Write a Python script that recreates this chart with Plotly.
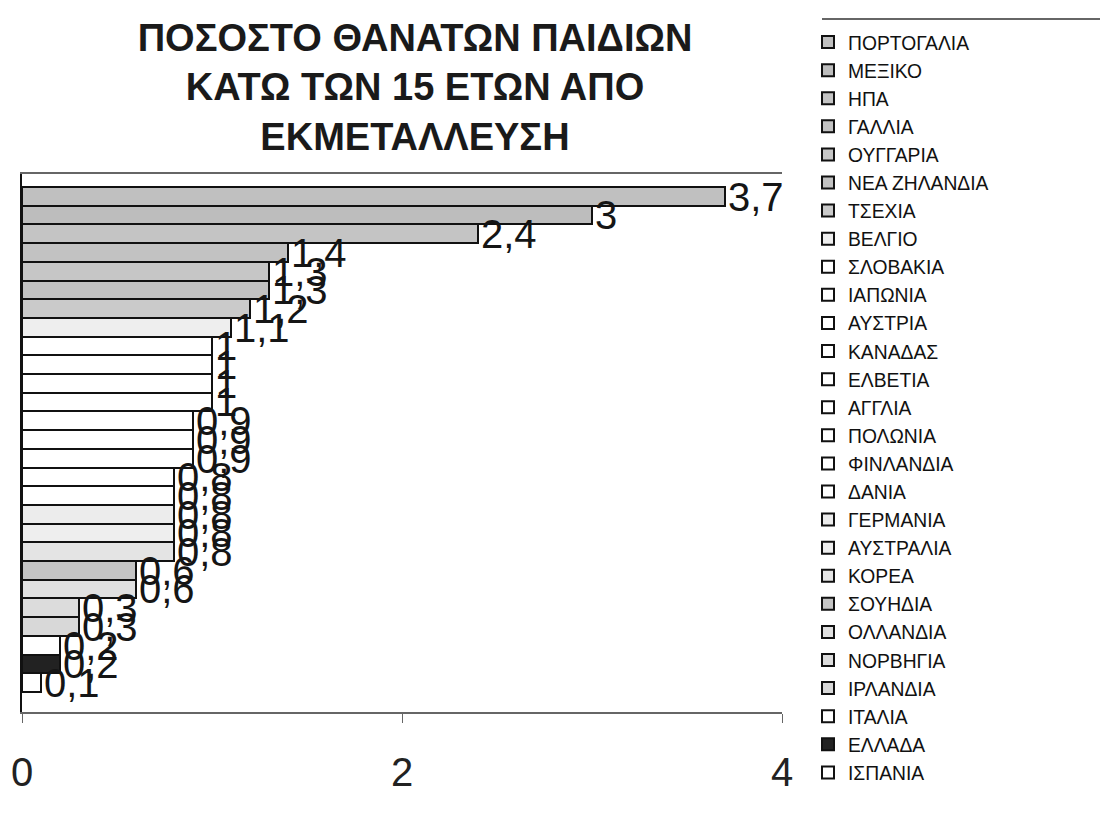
import plotly.graph_objects as go

# Data (top to bottom as drawn, same order as legend)
countries = [
    "ΠΟΡΤΟΓΑΛΙΑ", "ΜΕΞΙΚΟ", "ΗΠΑ", "ΓΑΛΛΙΑ", "ΟΥΓΓΑΡΙΑ", "ΝΕΑ ΖΗΛΑΝΔΙΑ",
    "ΤΣΕΧΙΑ", "ΒΕΛΓΙΟ", "ΣΛΟΒΑΚΙΑ", "ΙΑΠΩΝΙΑ", "ΑΥΣΤΡΙΑ", "ΚΑΝΑΔΑΣ",
    "ΕΛΒΕΤΙΑ", "ΑΓΓΛΙΑ", "ΠΟΛΩΝΙΑ", "ΦΙΝΛΑΝΔΙΑ", "ΔΑΝΙΑ", "ΓΕΡΜΑΝΙΑ",
    "ΑΥΣΤΡΑΛΙΑ", "ΚΟΡΕΑ", "ΣΟΥΗΔΙΑ", "ΟΛΛΑΝΔΙΑ", "ΝΟΡΒΗΓΙΑ", "ΙΡΛΑΝΔΙΑ",
    "ΙΤΑΛΙΑ", "ΕΛΛΑΔΑ", "ΙΣΠΑΝΙΑ",
]
values = [
    3.7, 3.0, 2.4, 1.4, 1.3, 1.3,
    1.2, 1.1, 1.0, 1.0, 1.0, 1.0,
    0.9, 0.9, 0.9, 0.8, 0.8, 0.8,
    0.8, 0.8, 0.6, 0.6, 0.3, 0.3,
    0.2, 0.2, 0.1,
]
x_ticks = [0, 2, 4]
title_text = "ΠΟΣΟΣΤΟ ΘΑΝΑΤΩΝ ΠΑΙΔΙΩΝ<br>ΚΑΤΩ ΤΩΝ 15 ΕΤΩΝ ΑΠΟ<br>ΕΚΜΕΤΑΛΛΕΥΣΗ"

# Styles (fill of each bar as it appears)
bar_colors = [
    "#c0c0c0", "#bdbdbd", "#c4c4c4", "#c2c2c2", "#c6c6c6", "#c2c2c2",
    "#cacaca", "#eeeeee", "#ffffff", "#ffffff", "#ffffff", "#ffffff",
    "#ffffff", "#ffffff", "#ffffff", "#ffffff", "#ffffff", "#ececec",
    "#eeeeee", "#e4e4e4", "#c4c4c4", "#e0e0e0", "#dcdcdc", "#d8d8d8",
    "#ffffff", "#222222", "#ffffff",
]

FONT = "Liberation Sans, Arial, sans-serif"


def fmt(v):
    s = ("%.1f" % v).rstrip("0").rstrip(".")
    return s.replace(".", ",")


fig = go.Figure()
for name, val, col in zip(countries, values, bar_colors):
    fig.add_trace(go.Bar(
        y=[name], x=[val], name=name, orientation="h",
        marker=dict(color=col, line=dict(color="#111111", width=2)),
        text=[fmt(val)], textposition="outside", textangle=0,
        constraintext="none", cliponaxis=False,
        textfont=dict(family=FONT, size=40, color="#151515"),
    ))

n = len(countries)
PL, PR, PT, PB = 22, 782, 174, 712  # plot area in page pixels
pw, ph = PR - PL, PB - PT


def px_x(x):
    return (x - PL) / pw


def px_y(y):
    return (PB - y) / ph


fig.update_layout(
    width=1104, height=825,
    paper_bgcolor="white", plot_bgcolor="white",
    barmode="overlay", bargap=0,
    margin=dict(l=PL, r=1104 - PR, t=PT, b=825 - PB),
    font=dict(family=FONT, color="#151515"),
    title=dict(
        text=title_text, x=415 / 1104, xanchor="center", xref="container",
        y=1 - 51 / 825, yanchor="top", yref="container",
        font=dict(family=FONT, size=38, color="#1a1a1a", weight="bold"),
    ),
    showlegend=True,
    legend=dict(
        x=px_x(808), xanchor="left", xref="paper",
        y=px_y(23), yanchor="top", yref="paper",
        traceorder="normal", itemwidth=30, maxheight=820,
        font=dict(family=FONT, size=19.3, color="#111111"),
        bgcolor="rgba(0,0,0,0)", borderwidth=0,
    ),
    shapes=[dict(type="line", xref="paper", yref="paper",
                 x0=px_x(822), x1=px_x(1100),
                 y0=px_y(19), y1=px_y(19),
                 line=dict(color="#333333", width=1.5))],
)

fig.update_xaxes(
    range=[0, 4], tickvals=x_ticks, ticktext=[str(t) for t in x_ticks],
    showgrid=False, zeroline=False,
    showline=True, linecolor="#666666", linewidth=1.5, mirror=True,
    ticks="outside", ticklen=9, tickcolor="#666666", tickwidth=1,
    tickfont=dict(family=FONT, size=40, color="#222222"),
    ticklabelstandoff=15,
)
fig.update_yaxes(
    type="category", categoryorder="array", categoryarray=list(reversed(countries)),
    range=[-0.5 - 1.07, n - 0.5 + 0.7],
    showticklabels=False, showgrid=False, zeroline=False,
    showline=True, linecolor="#111111", linewidth=2, ticks="",
)

fig.write_html("out.html", config={"displayModeBar": False},
               post_script="document.body.style.margin='0';")
